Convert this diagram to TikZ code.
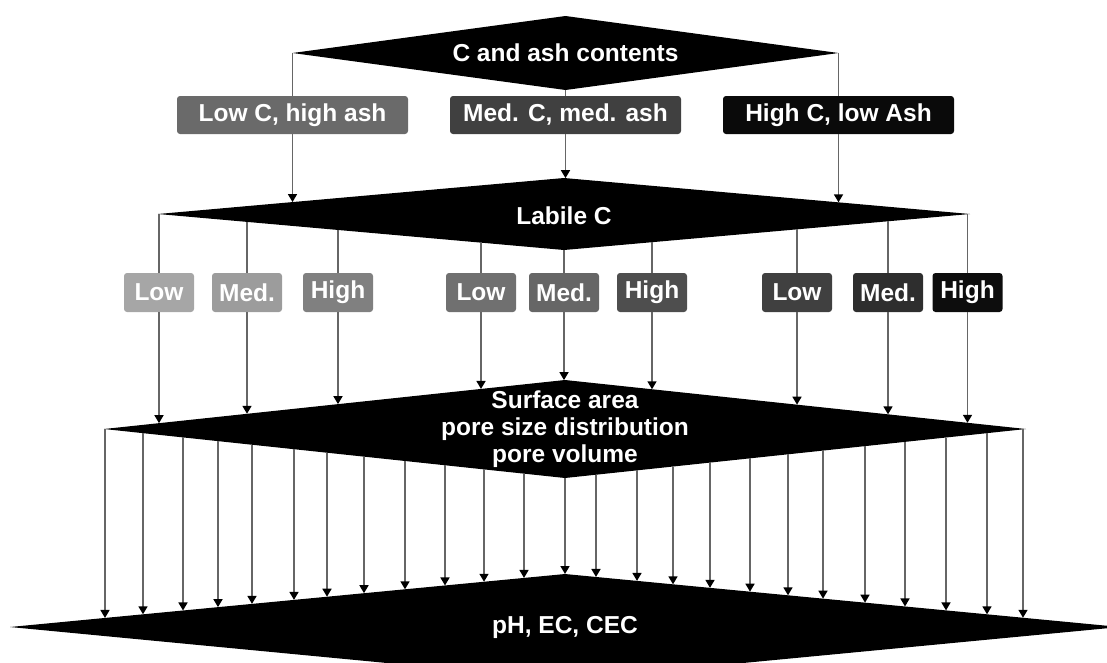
\documentclass[tikz,border=0pt]{standalone}
\usepackage{fontspec}
\setmainfont{Liberation Sans}
\usetikzlibrary{shapes.geometric,arrows.meta,intersections}
\definecolor{lineg}{HTML}{666666}
\definecolor{ca}{HTML}{6A6A6A}
\definecolor{cb}{HTML}{404040}
\definecolor{cc}{HTML}{0A0A0A}
\definecolor{la}{HTML}{A6A6A6}
\definecolor{lb}{HTML}{9C9C9C}
\definecolor{lc}{HTML}{808080}
\definecolor{ma}{HTML}{707070}
\definecolor{mb}{HTML}{666666}
\definecolor{mc}{HTML}{4E4E4E}
\definecolor{ra}{HTML}{404040}
\definecolor{rb}{HTML}{2E2E2E}
\definecolor{rc}{HTML}{0D0D0D}
\tikzset{
  lbl/.style={font=\bfseries\fontsize{24.5}{27}\selectfont, text=white},
  dia/.style={diamond, fill=black, inner sep=0pt, outer sep=0pt},
  dtext/.style={lbl, inner sep=0pt, align=center},
  box/.style={lbl, rounded corners=3pt, inner sep=0pt, outer sep=0pt, minimum height=38pt},
  widebox/.style={box, minimum width=231pt},
  smallbox/.style={box, minimum width=70pt, minimum height=39pt},
  conn/.style={draw=lineg, line width=1.6pt},
  arr/.style={conn, -{Triangle[width=9pt,length=8pt,color=black]}},
}
\begin{document}
\begin{tikzpicture}[x=1pt,y=-1pt]
\useasboundingbox (0,0) rectangle (1107,662);
\clip (0,0) rectangle (1107,662);

% diamonds
\node[dia, aspect=7.38, minimum width=546pt, minimum height=74pt] (top) at (565.5,53) {};
\node[dtext] (toptext) at (top.center) {C and ash contents};
\node[dia, aspect=11.3, minimum width=812pt, minimum height=72pt] (lab) at (564,214) {};
\node[dtext] (labtext) at ([yshift=-2pt]lab.center) {Labile C};
\node[dia, aspect=9.4, minimum width=922pt, minimum height=98pt] (surf) at (565,429) {};
\node[dtext] (surftext) at (surf.center) {Surface area\\pore size distribution\\pore volume};
\node[dia, aspect=10.5, minimum width=1110pt, minimum height=106pt] (ph) at (565,627) {};
\node[dtext] (phtext) at (ph.center) {pH, EC, CEC};

% first row of boxes
\node[widebox, fill=ca] (b1) at (292.5,115) {Low C, high ash};
\node[widebox, fill=cb] (b2) at (565.5,115) {Med. C, med. ash};
\node[widebox, fill=cc] (b3) at (838.5,115) {High C, low Ash};

% second row of boxes
\node[smallbox, fill=la] (c1) at (159,292.5) {Low};
\node[smallbox, fill=lb] (c2) at (247,292.5) {Med.};
\node[smallbox, fill=lc] (c3) at (338,292.5) {High};
\node[smallbox, fill=ma] (c4) at (481,292.5) {Low};
\node[smallbox, fill=mb] (c5) at (564,292.5) {Med.};
\node[smallbox, fill=mc] (c6) at (652,292.5) {High};
\node[smallbox, fill=ra] (c7) at (797,292.5) {Low};
\node[smallbox, fill=rb] (c8) at (888,292.5) {Med.};
\node[smallbox, fill=rc] (c9) at (967.5,292.5) {High};

% edges of diamonds
\path[name path=labU] (lab.west) -- (lab.north) -- (lab.east);
\path[name path=labL] (lab.west) -- (lab.south) -- (lab.east);
\path[name path=surfU] (surf.west) -- (surf.north) -- (surf.east);
\path[name path=surfL] (surf.west) -- (surf.south) -- (surf.east);
\path[name path=phU] (ph.west) -- (ph.north) -- (ph.east);

% top diamond to first row
\draw[conn] (top.west) -- (b1.north);
\draw[conn] (top.south) -- (b2.north);
\draw[conn] (top.east) -- (b3.north);

% first row to labile
\foreach \b in {b1,b2,b3} {
  \path[name path=v] (\b.south) -- ++(0,200);
  \draw[arr, name intersections={of=v and labU, by=e}] (\b.south) -- (e);
}

% labile to second row, second row to surface
\foreach \b in {c1,c2,c3,c4,c5,c6,c7,c8,c9} {
  \path[name path=v] (\b.north) -- ++(0,-200);
  \draw[conn, name intersections={of=v and labL, by=e}] (e) -- (\b.north);
  \path[name path=w] (\b.south) -- ++(0,250);
  \draw[arr, name intersections={of=w and surfU, by=f}] (\b.south) -- (f);
}

% surface to pH
\foreach \x in {105,143,183,218,252,294,327,364,405,445,484,524,565,596,637,673,710,750,788,823,865,905,946,987,1023} {
  \path[name path=v] (\x,300) -- (\x,700);
  \path[name intersections={of=v and surfL, by=s}];
  \path[name intersections={of=v and phU, by=p}];
  \draw[arr] (s) -- (p);
}
\end{tikzpicture}
\end{document}
